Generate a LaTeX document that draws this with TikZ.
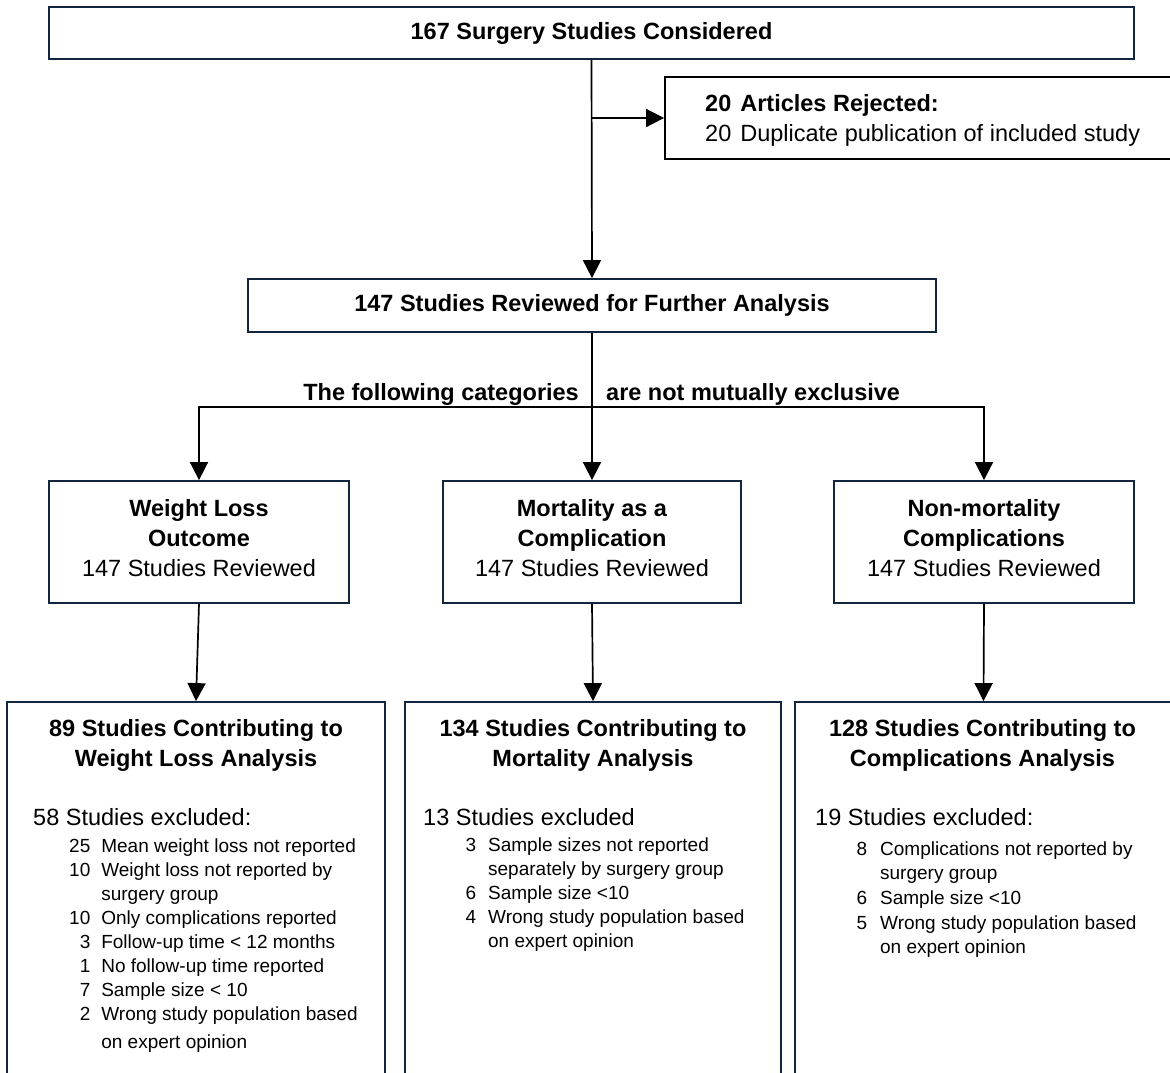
\documentclass[tikz,border=0pt]{standalone}
\usepackage{fontspec}
\setmainfont{Liberation Sans}
\usetikzlibrary{arrows.meta,calc}
\definecolor{navy}{RGB}{18,38,64}
\begin{document}
\begin{tikzpicture}[x=1pt,y=-1pt,
  box/.style={draw=navy,line width=1.8pt,rectangle,inner sep=0pt},
  arr/.style={draw=black,line width=1.7pt,-{Triangle[length=18pt,width=18pt]}},
  big/.style={font=\fontsize{23.5}{30}\selectfont},
  bigb/.style={font=\fontsize{23.5}{30}\selectfont\bfseries},
  small/.style={font=\fontsize{19}{24}\selectfont},
  smallr/.style={font=\fontsize{19}{24.7}\selectfont},
  txt/.style={inner sep=0pt}]
\useasboundingbox[fill=white] (0,0) rectangle (1170,1072);

% top level
\node[box,bigb,minimum width=1085pt,minimum height=52pt] (top) at (591.5,33) {167 Surgery Studies Considered};
\node[box,draw=black,minimum width=510pt,minimum height=82pt] (rej) at (920,118) {};
\node[txt,big,anchor=west] (rejtext) at (705,120.4) {\begin{tabular}{@{}r@{\hspace{9pt}}l@{}}\textbf{20}&\textbf{Articles Rejected:}\\20&Duplicate publication of included study\end{tabular}};
\node[box,bigb,minimum width=688pt,minimum height=53pt] (rev) at (592,305.5) {147 Studies Reviewed for Further Analysis};

% middle boxes
\node[box,big,align=center,minimum width=300pt,minimum height=122pt] (wl) at (199,542) {\textbf{Weight Loss}\\\textbf{Outcome}\\147 Studies Reviewed\rule[-9pt]{0pt}{9pt}};
\node[box,big,align=center,minimum width=298pt,minimum height=122pt] (mc) at (592,542) {\textbf{Mortality as a}\\\textbf{Complication}\\147 Studies Reviewed\rule[-9pt]{0pt}{9pt}};
\node[box,big,align=center,minimum width=300pt,minimum height=122pt] (nm) at (984,542) {\textbf{Non-mortality}\\\textbf{Complications}\\147 Studies Reviewed\rule[-9pt]{0pt}{9pt}};

% labels
\node[txt,bigb,anchor=base east] (lab1) at (579,400) {The following categories};
\node[txt,bigb,anchor=base west] (lab2) at (606,400) {are not mutually exclusive};

% bottom boxes
\node[box,minimum width=378pt,minimum height=383pt] (wla) at (196,893.5) {};
\node[box,minimum width=376pt,minimum height=383pt] (mca) at (593,893.5) {};
\node[box,minimum width=377pt,minimum height=383pt] (nma) at (983.5,893.5) {};

% bottom left text
\node[txt,bigb,align=center,anchor=north] (wlat) at (196,719.5) {89 Studies Contributing to\\Weight Loss Analysis};
\node[txt,big,anchor=base west] (wlax) at (33,825.4) {58 Studies excluded:};
\node[txt,small,anchor=north west] (wlal) at (69,835) {\begin{tabular}{@{}r@{\hspace{11pt}}l@{}}
25&Mean weight loss not reported\\
10&Weight loss not reported by\\
&surgery group\\
10&Only complications reported\\
3&Follow-up time < 12 months\\
1&No follow-up time reported\\
7&Sample size < 10\\
2&Wrong study population based\\[4pt]
&on expert opinion
\end{tabular}};

% bottom middle text
\node[txt,bigb,align=center,anchor=north] (mcat) at (593,719.5) {134 Studies Contributing to\\Mortality Analysis};
\node[txt,big,anchor=base west] (mcax) at (423,825.4) {13 Studies excluded};
\node[txt,small,anchor=north west] (mcal) at (465.4,834) {\begin{tabular}{@{}r@{\hspace{12pt}}l@{}}
3&Sample sizes not reported\\
&separately by surgery group\\
6&Sample size <10\\
4&Wrong study population based\\
&on expert opinion
\end{tabular}};

% bottom right text
\node[txt,bigb,align=center,anchor=north] (nmat) at (982.5,719.5) {128 Studies Contributing to\\Complications Analysis};
\node[txt,big,anchor=base west] (nmax) at (815,825.4) {19 Studies excluded:};
\node[txt,smallr,anchor=north west] (nmal) at (856.4,837.5) {\begin{tabular}{@{}r@{\hspace{13pt}}l@{}}
8&Complications not reported by\\
&surgery group\\
6&Sample size <10\\
5&Wrong study population based\\
&on expert opinion
\end{tabular}};

% connectors
\coordinate (hy) at (592,407);
\draw[arr] (top.south) -- (rev.north);
\draw[arr] (top.south |- rej.west) -- (rej.west);
\draw[arr] (rev.south) -- (mc.north);
\draw[arr] (hy) -| (wl.north);
\draw[arr] (hy) -| (nm.north);
\draw[arr] (wl.south) -- (wla.north);
\draw[arr] (mc.south) -- (mca.north);
\draw[arr] (nm.south) -- (nma.north);
\end{tikzpicture}
\end{document}
